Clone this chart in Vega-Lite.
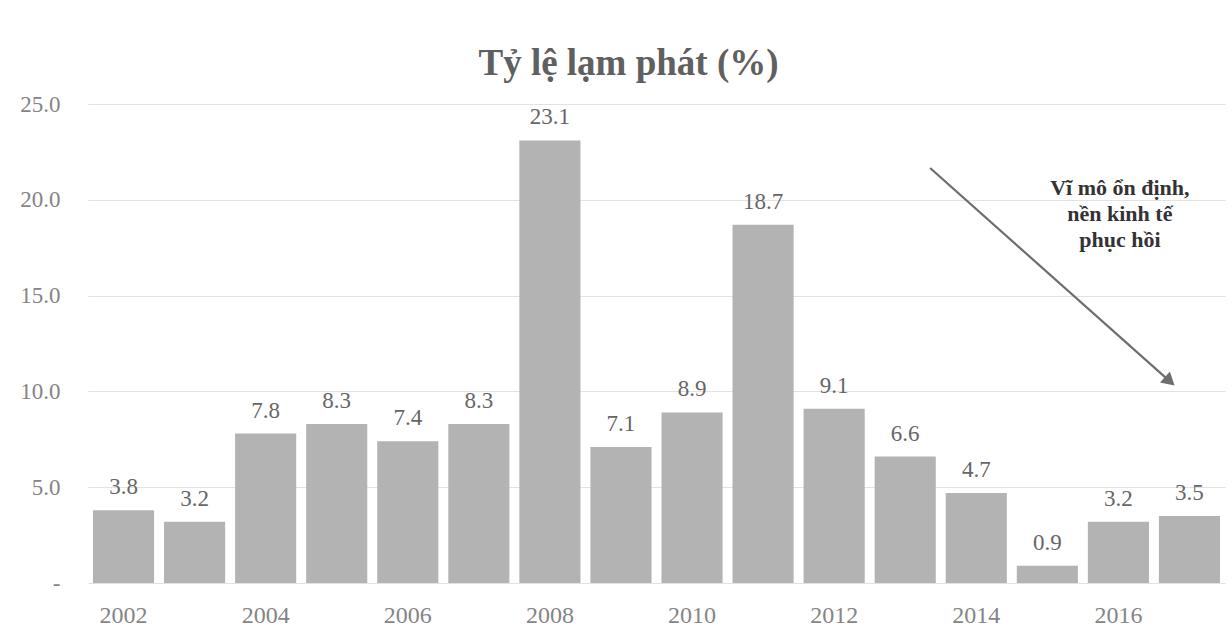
{
  "$schema": "https://vega.github.io/schema/vega-lite/v6.json",
  "autosize": {"type": "none"},
  "padding": {"left": 88, "top": 104, "right": 7, "bottom": 44},
  "width": 1137,
  "height": 479,
  "background": "white",
  "title": {
    "text": "Tỷ lệ lạm phát (%)",
    "font": "Liberation Serif",
    "fontSize": 37,
    "fontWeight": "bold",
    "color": "#606060",
    "anchor": "middle",
    "dx": -28,
    "offset": 10
  },
  "config": {
    "view": {"stroke": null},
    "axis": {"labelFont": "Liberation Serif", "labelColor": "#858585"}
  },
  "datasets": {
    "inflation": [
      {"year": "2002", "value": 3.8},
      {"year": "2003", "value": 3.2},
      {"year": "2004", "value": 7.8},
      {"year": "2005", "value": 8.3},
      {"year": "2006", "value": 7.4},
      {"year": "2007", "value": 8.3},
      {"year": "2008", "value": 23.1},
      {"year": "2009", "value": 7.1},
      {"year": "2010", "value": 8.9},
      {"year": "2011", "value": 18.7},
      {"year": "2012", "value": 9.1},
      {"year": "2013", "value": 6.6},
      {"year": "2014", "value": 4.7},
      {"year": "2015", "value": 0.9},
      {"year": "2016", "value": 3.2},
      {"year": "2017", "value": 3.5}
    ],
    "arrow": [
      {"x1": 2013.35, "y1": 21.66, "x2": 2016.7, "y2": 10.6}
    ],
    "note": [
      {"x": 2016.02, "y": 20.6, "label": ["Vĩ mô ổn định,", "nền kinh tế", "phục hồi"]}
    ]
  },
  "resolve": {"scale": {"x": "independent"}},
  "layer": [
    {
      "data": {"name": "inflation"},
      "layer": [
        {
          "mark": {"type": "bar", "color": "#b3b3b3"},
          "encoding": {
            "x": {
              "field": "year", "type": "ordinal",
              "scale": {"paddingInner": 0.14, "paddingOuter": 0.07},
              "axis": {
                "title": null,
                "values": ["2002", "2004", "2006", "2008", "2010", "2012", "2014", "2016"],
                "labelAngle": 0,
                "labelFontSize": 24,
                "labelPadding": 20,
                "ticks": false,
                "domain": false,
                "grid": false
              }
            },
            "y": {
              "field": "value", "type": "quantitative",
              "scale": {"domain": [0, 25], "nice": false},
              "axis": {
                "title": null,
                "values": [0, 5, 10, 15, 20, 25],
                "labelExpr": "datum.value == 0 ? '-' : format(datum.value, '.1f')",
                "labelFontSize": 23,
                "labelPadding": 28,
                "ticks": false,
                "domain": false,
                "gridColor": "#e2e2e2",
                "gridWidth": 1
              }
            }
          }
        },
        {
          "mark": {"type": "text", "baseline": "alphabetic", "dy": -16, "font": "Liberation Serif", "fontSize": 23, "color": "#666666"},
          "encoding": {
            "x": {"field": "year", "type": "ordinal"},
            "y": {"field": "value", "type": "quantitative", "scale": {"domain": [0, 25], "nice": false}},
            "text": {"field": "value", "type": "quantitative", "format": ".1f"}
          }
        }
      ]
    },
    {
      "data": {"name": "arrow"},
      "layer": [
        {
          "mark": {"type": "rule", "color": "#6e6e6e", "strokeWidth": 2.2},
          "encoding": {
            "x": {"field": "x1", "type": "quantitative", "scale": {"domain": [2001.5, 2017.5], "nice": false, "zero": false}, "axis": null},
            "x2": {"field": "x2"},
            "y": {"field": "y1", "type": "quantitative", "scale": {"domain": [0, 25], "nice": false}},
            "y2": {"field": "y2"}
          }
        },
        {
          "mark": {"type": "point", "shape": "triangle", "filled": true, "color": "#6e6e6e", "opacity": 1, "size": 220, "angle": 131.7},
          "encoding": {
            "x": {"field": "x2", "type": "quantitative", "scale": {"domain": [2001.5, 2017.5], "nice": false, "zero": false}, "axis": null},
            "y": {"field": "y2", "type": "quantitative", "scale": {"domain": [0, 25], "nice": false}}
          }
        }
      ]
    },
    {
      "data": {"name": "note"},
      "mark": {"type": "text", "font": "Liberation Serif", "fontSize": 22, "fontWeight": "bold", "color": "#333333", "align": "center", "baseline": "middle", "lineHeight": 26},
      "encoding": {
        "x": {"field": "x", "type": "quantitative", "scale": {"domain": [2001.5, 2017.5], "nice": false, "zero": false}, "axis": null},
        "y": {"field": "y", "type": "quantitative", "scale": {"domain": [0, 25], "nice": false}},
        "text": {"field": "label"}
      }
    }
  ]
}
